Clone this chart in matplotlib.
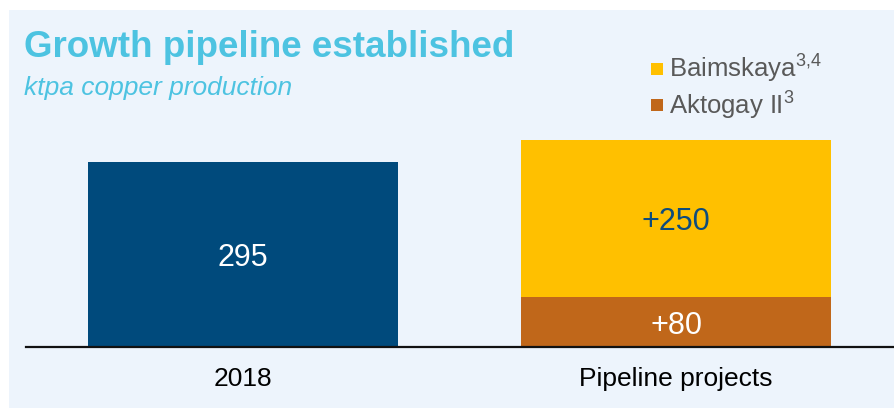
import matplotlib.pyplot as plt
from matplotlib.patches import Rectangle

plt.rcParams['font.family'] = ['Liberation Sans', 'DejaVu Sans']

# data
categories = ['2018', 'Pipeline projects']
base_2018 = 295
aktogay = 80
baimskaya = 250
legend_labels = ['Baimskaya$^{\\mathregular{3{,}4}}$', 'Aktogay II$^{\\mathregular{3}}$']

navy = '#004A7C'
yellow = '#FFC000'
brown = '#C0671A'
panel = '#EDF4FC'
title_col = '#4DC3E1'

fig = plt.figure(figsize=(8.95, 4.09), dpi=100, facecolor='white')
fig.patches.append(Rectangle((9 / 895, 1 / 409), 886 / 895, 398 / 409,
                             transform=fig.transFigure, facecolor=panel,
                             edgecolor='none', zorder=-10))

ax = fig.add_axes([26 / 895, 62 / 409, 867 / 895, 251 / 409])
ax.patch.set_alpha(0)
ax.set_zorder(5)

w = 0.716
ax.bar(0, base_2018, width=w, color=navy)
ax.bar(1, aktogay, width=w, color=brown)
ax.bar(1, baimskaya, width=w, bottom=aktogay, color=yellow)

# value labels, baseline placed a bit below segment centre
labels = [(0, base_2018 / 2, str(base_2018), 'white'),
          (1, aktogay / 2, f'+{aktogay}', 'white'),
          (1, aktogay + baimskaya / 2, f'+{baimskaya}', '#0E4C7C')]
for x, y, s, c in labels:
    ax.annotate(s, (x, y), xytext=(0, -8.5), textcoords='offset points',
                ha='center', va='baseline', fontsize=22, color=c)

ax.set_xlim(-0.5, 1.5)
ax.set_ylim(0, 400)
for s in ['top', 'right', 'left']:
    ax.spines[s].set_visible(False)
ax.spines['bottom'].set_linewidth(1.6)
ax.spines['bottom'].set_color('#111111')
ax.set_yticks([])
ax.set_xticks([0, 1])
ax.set_xticklabels(categories, fontsize=19, color='black')
ax.tick_params(axis='x', length=0, pad=14.5)

# title
fig.text(24 / 895, (409 - 57) / 409, 'Growth pipeline established',
         fontsize=26.5, fontweight='bold', color=title_col, va='baseline')
fig.text(24 / 895, (409 - 95) / 409, 'ktpa copper production',
         fontsize=19, style='italic', color=title_col, va='baseline')

# legend
leg_colors = [yellow, brown]
leg_tops = [63, 99]
leg_base = [77, 114]
for lab, c, t, b in zip(legend_labels, leg_colors, leg_tops, leg_base):
    fig.patches.append(Rectangle((651 / 895, (409 - t - 12) / 409), 12 / 895, 12 / 409,
                                 transform=fig.transFigure, facecolor=c,
                                 edgecolor='none'))
    fig.text(669 / 895, (409 - b) / 409, lab, fontsize=18.5, color='#595959',
             va='baseline')

fig.savefig('out.png', dpi=100, facecolor='white')
